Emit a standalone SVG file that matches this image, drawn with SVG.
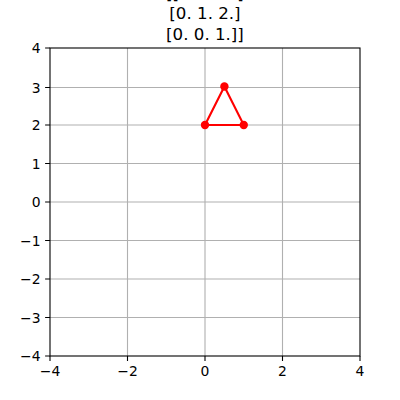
<svg xmlns="http://www.w3.org/2000/svg" width="400" height="400" viewBox="0 0 400 400">
<style>
.grid{stroke:#b0b0b0;stroke-width:1.1;fill:none}
.tick{stroke:#000;stroke-width:1.1}
.lbl{font-family:"DejaVu Sans",sans-serif;font-size:13.9px;fill:#000}
.title{font-family:"DejaVu Sans",sans-serif;font-size:16.67px;fill:#000;text-anchor:middle}
</style>
<rect width="400" height="400" fill="#fff"/>
<g id="title">
<text class="title" x="205" y="-1.5">[[1. 0. 0.]</text>
<text class="title" x="205" y="19">[0. 1. 2.]</text>
<text class="title" x="205" y="40">[0. 0. 1.]]</text>
</g>
<g id="grid">
<path class="grid" d="M127.5 48V356M205 48V356M282.5 48V356M50 87.5H360M50 125H360M50 163.5H360M50 202H360M50 240.5H360M50 279H360M50 317.5H360"/>
</g>
<g id="axes">
<rect x="50" y="48" width="310" height="308" fill="none" stroke="#000" stroke-width="1.1"/>
<path class="tick" d="M50 356v4.9M127.5 356v4.9M205 356v4.9M282.5 356v4.9M360 356v4.9M50 48h-4.9M50 87.5h-4.9M50 125h-4.9M50 163.5h-4.9M50 202h-4.9M50 240.5h-4.9M50 279h-4.9M50 317.5h-4.9M50 356h-4.9"/>
<g class="lbl" text-anchor="middle">
<text x="50" y="376">−4</text>
<text x="127.5" y="376">−2</text>
<text x="205" y="376">0</text>
<text x="282.5" y="376">2</text>
<text x="360" y="376">4</text>
</g>
<g class="lbl" text-anchor="end">
<text x="40.5" y="53">4</text>
<text x="40.5" y="92.5">3</text>
<text x="40.5" y="130">2</text>
<text x="40.5" y="168.5">1</text>
<text x="40.5" y="207">0</text>
<text x="40.5" y="245.5">−1</text>
<text x="40.5" y="284">−2</text>
<text x="40.5" y="322.5">−3</text>
<text x="40.5" y="361">−4</text>
</g>
</g>
<g id="connectors">
<path d="M205 125H243.75L224.4 86.5Z" fill="none" stroke="#ff0000" stroke-width="2.1" stroke-linejoin="round"/>
</g>
<g id="points" fill="#ff0000">
<circle cx="205" cy="125" r="4.2"/>
<circle cx="243.75" cy="125" r="4.2"/>
<circle cx="224.4" cy="86.5" r="4.2"/>
</g>
</svg>
